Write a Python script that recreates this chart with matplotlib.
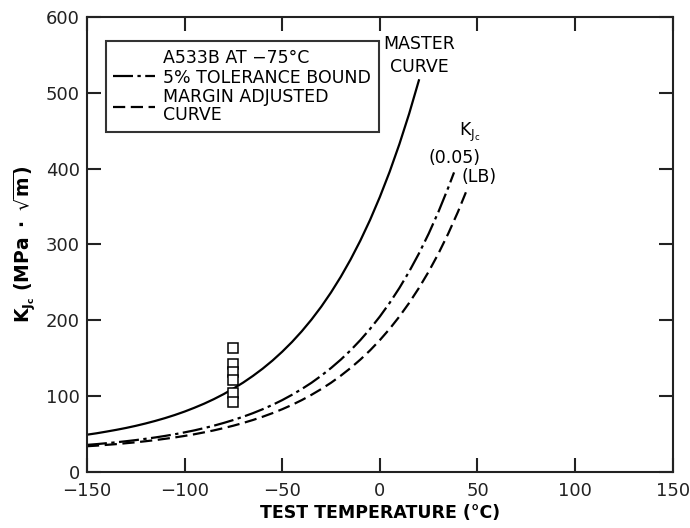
import numpy as np
import matplotlib.pyplot as plt
from matplotlib.lines import Line2D

# values
temp_master = [-150, -145, -140, -135, -130, -125, -120, -115, -110, -105, -100, -95, -90, -85, -80,
               -75, -70, -65, -60, -55, -50, -45, -40, -35, -30, -25, -20, -15, -10, -5, 0, 5, 10, 15, 20]
k_master = [49.2, 51.1, 53.3, 55.6, 58.1, 60.9, 64.0, 67.4, 71.1, 75.2, 79.7, 84.7, 90.1, 96.1, 102.7,
            110.0, 117.9, 126.7, 136.3, 146.9, 158.6, 171.4, 185.5, 201.0, 218.0, 236.8, 257.4, 280.1,
            305.0, 332.4, 362.6, 395.7, 432.2, 472.3, 516.4]

temp_lb = [-150, -145, -140, -135, -130, -125, -120, -115, -110, -105, -100, -95, -90, -85, -80,
           -75, -70, -65, -60, -55, -50, -45, -40, -35, -30, -25, -20, -15, -10, -5, 0, 5, 10, 15, 20,
           25, 30, 35, 38]
k_lb = [35.8, 36.8, 38.0, 39.2, 40.6, 42.1, 43.8, 45.6, 47.6, 49.8, 52.3, 54.9, 57.9, 61.1, 64.7,
        68.6, 72.9, 77.6, 82.8, 88.5, 94.8, 101.8, 109.4, 117.7, 127.0, 137.1, 148.2, 160.4, 173.9,
        188.7, 205.0, 222.9, 242.6, 264.2, 288.0, 314.2, 343.0, 374.7, 395.0]

temp_margin = [-150, -145, -140, -135, -130, -125, -120, -115, -110, -105, -100, -95, -90, -85, -80,
               -75, -70, -65, -60, -55, -50, -45, -40, -35, -30, -25, -20, -15, -10, -5, 0, 5, 10, 15,
               20, 25, 30, 35, 40, 45]
k_margin = [34.0, 34.8, 35.8, 36.8, 38.0, 39.2, 40.6, 42.1, 43.8, 45.6, 47.6, 49.8, 52.3, 54.9, 57.9,
            61.1, 64.7, 68.6, 72.9, 77.6, 82.8, 88.5, 94.8, 101.8, 109.4, 117.7, 127.0, 137.1, 148.2,
            160.4, 173.9, 188.7, 205.0, 222.9, 242.6, 264.2, 288.0, 314.2, 343.0, 374.7]

temp_data = [-75, -75, -75, -75, -75, -75]
k_data = [163, 143, 132, 121, 104, 92]

plt.rcParams['font.family'] = 'DejaVu Sans'
plt.rcParams['mathtext.fontset'] = 'dejavusans'

fig = plt.figure(figsize=(6.9, 5.28), dpi=100)
ax = fig.add_axes([0.126, 0.106, 0.849, 0.862])

lw = 1.6
dashdot = (0, (9, 2, 1.5, 2))
dashed = (0, (5.5, 2.5))
ax.plot(temp_master, k_master, color='black', lw=lw)
ax.plot(temp_lb, k_lb, color='black', lw=lw, linestyle=dashdot)
ax.plot(temp_margin, k_margin, color='black', lw=lw, linestyle=dashed)
ax.plot(temp_data, k_data, linestyle='none', marker='s', markersize=6.5,
        markerfacecolor='white', markeredgecolor='black', markeredgewidth=1.1)

ax.set_xlim(-150, 150)
ax.set_ylim(0, 600)
ax.set_xticks(np.arange(-150, 151, 50))
ax.set_yticks(np.arange(0, 601, 100))
ax.set_xticklabels(['\u2212150', '\u2212100', '\u221250', '0', '50', '100', '150'])
ax.tick_params(direction='in', length=10, width=1.5, top=True, right=True,
               labelsize=13, colors='#222222')
ax.tick_params(axis='x', pad=7)
ax.tick_params(axis='y', pad=5)
for s in ax.spines.values():
    s.set_linewidth(1.5)
    s.set_color('#222222')

ax.set_xlabel('TEST TEMPERATURE (°C)', fontsize=12.5, fontweight='bold', labelpad=3)
ax.set_ylabel(r'$\mathbf{K_{J_c}\ (MPa\ \bullet\ \sqrt{m})}$', fontsize=13.5, labelpad=6)

# curve labels
ax.text(20, 576, 'MASTER\nCURVE', ha='center', va='top', fontsize=12.5, linespacing=1.35)
ax.text(46, 448, r'K$_{\mathrm{J_c}}$', ha='center', va='center', fontsize=12.5)
ax.text(38, 414, '(0.05)', ha='center', va='center', fontsize=12.5)
ax.text(51, 389, '(LB)', ha='center', va='center', fontsize=12.5)

handles = [Line2D([], [], linestyle='none'),
           Line2D([], [], color='black', lw=lw, linestyle=dashdot),
           Line2D([], [], color='black', lw=lw, linestyle=dashed)]
labels = ['A533B AT \u221275°C', '5% TOLERANCE BOUND', 'MARGIN ADJUSTED\nCURVE']
leg = ax.legend(handles, labels, loc='upper left', bbox_to_anchor=(0.032, 0.947),
                fontsize=12.5, frameon=True, fancybox=False, edgecolor='black',
                handlelength=2.4, handletextpad=0.45, labelspacing=0.1,
                borderpad=0.45, borderaxespad=0)
leg.get_frame().set_linewidth(1.5)
for t in leg.get_texts():
    t.set_linespacing(1.0)

fig.savefig('out.png', dpi=100)
